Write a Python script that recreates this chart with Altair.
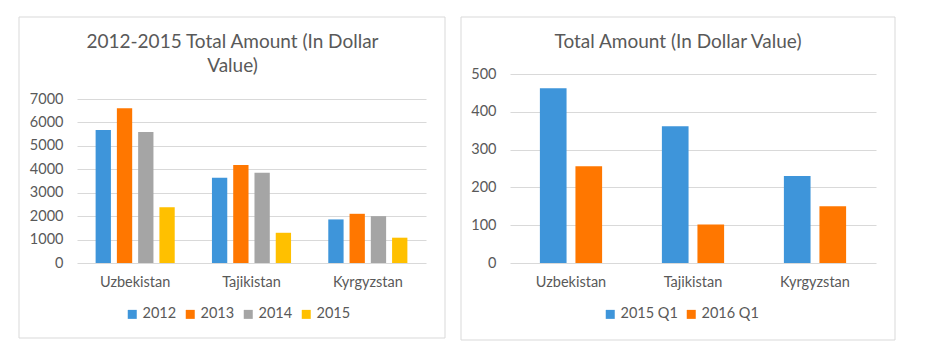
import altair as alt
import pandas as pd

countries = ["Uzbekistan", "Tajikistan", "Kyrgyzstan"]
years = ["2012", "2013", "2014", "2015"]
v2012 = [5680, 3640, 1860]
v2013 = [6600, 4180, 2100]
v2014 = [5590, 3850, 2000]
v2015 = [2380, 1290, 1080]
quarters = ["2015 Q1", "2016 Q1"]
q2015 = [462, 362, 230]
q2016 = [256, 102, 150]

year_colors = ["#3E95DA", "#FF7700", "#A5A5A5", "#FFC000"]
quarter_colors = ["#3E95DA", "#FF7700"]

FONT = "Lato"
TXT = "#595959"
GRID = "#D9D9D9"

rows = []
for yr, vals in zip(years, [v2012, v2013, v2014, v2015]):
    for c, v in zip(countries, vals):
        rows.append({"country": c, "series": yr, "value": v})
df1 = pd.DataFrame(rows)

rows = []
for q, vals in zip(quarters, [q2015, q2016]):
    for c, v in zip(countries, vals):
        rows.append({"country": c, "series": q, "value": v})
df2 = pd.DataFrame(rows)

H = 189


def panel(df, series, colors, ymax, ystep, width, top_px, pi, pi2, title_lines, tdx,
          toff, legend_x, frame):
    bars = alt.Chart(df).mark_bar().encode(
        x=alt.X("country:N", sort=countries,
                scale=alt.Scale(paddingInner=pi, paddingOuter=pi / 2),
                axis=alt.Axis(title=None, labelAngle=0, domain=False, ticks=False,
                              labelFontSize=14.5, labelColor=TXT, labelFont=FONT,
                              labelPadding=12)),
        xOffset=alt.XOffset("series:N", sort=series,
                            scale=alt.Scale(paddingInner=pi2, paddingOuter=0)),
        y=alt.Y("value:Q",
                scale=alt.Scale(domain=[0, ymax], range=[H, top_px], nice=False),
                axis=alt.Axis(title=None, values=list(range(0, ymax + 1, ystep)),
                              format="d",
                              domain=False, ticks=False, grid=True, gridColor=GRID,
                              labelFontSize=14.5, labelColor=TXT, labelFont=FONT,
                              labelPadding=14)),
        color=alt.Color("series:N", sort=series,
                        scale=alt.Scale(domain=series, range=colors),
                        legend=alt.Legend(title=None, orient="none", direction="horizontal",
                                          legendX=legend_x, legendY=233,
                                          symbolType="square", symbolSize=81,
                                          symbolStrokeWidth=0, labelFontSize=14.5,
                                          labelColor=TXT, labelFont=FONT,
                                          columnPadding=6, labelOffset=3)),
    )
    border = alt.Chart(pd.DataFrame({"a": [0]})).mark_rect(
        fill=None, stroke=GRID, strokeWidth=1
    ).encode(
        x=alt.value(frame[0]), x2=alt.value(frame[1]),
        y=alt.value(frame[2]), y2=alt.value(frame[3]),
    )
    return alt.layer(border, bars).properties(
        width=width, height=H,
        title=alt.TitleParams(title_lines, anchor="middle", fontSize=19, font=FONT,
                              fontWeight="normal", color=TXT, dx=tdx, offset=toff,
                              lineHeight=24),
    )


left = panel(df1, years, year_colors, 7000, 1000, 349, 25, 0.32, 0.28,
             ["2012-2015 Total Amount (In Dollar", "Value)"], -19, -59, 48,
             (-58, 368, -57, 264))
right = panel(df2, quarters, quarter_colors, 500, 100, 366, 0, 0.49, 0.25,
              ["Total Amount (In Dollar Value)"], -15, -35, 93,
              (-49, 385, -57, 266))

chart = alt.hconcat(left, right, spacing=84, bounds="flush").resolve_scale(
    color="independent", y="independent", x="independent", xOffset="independent"
).configure_view(stroke=None).properties(
    padding={"left": 10, "top": 8, "right": 5, "bottom": 5}
)

chart.save("out.html", embed_options={"renderer": "svg", "actions": False})
